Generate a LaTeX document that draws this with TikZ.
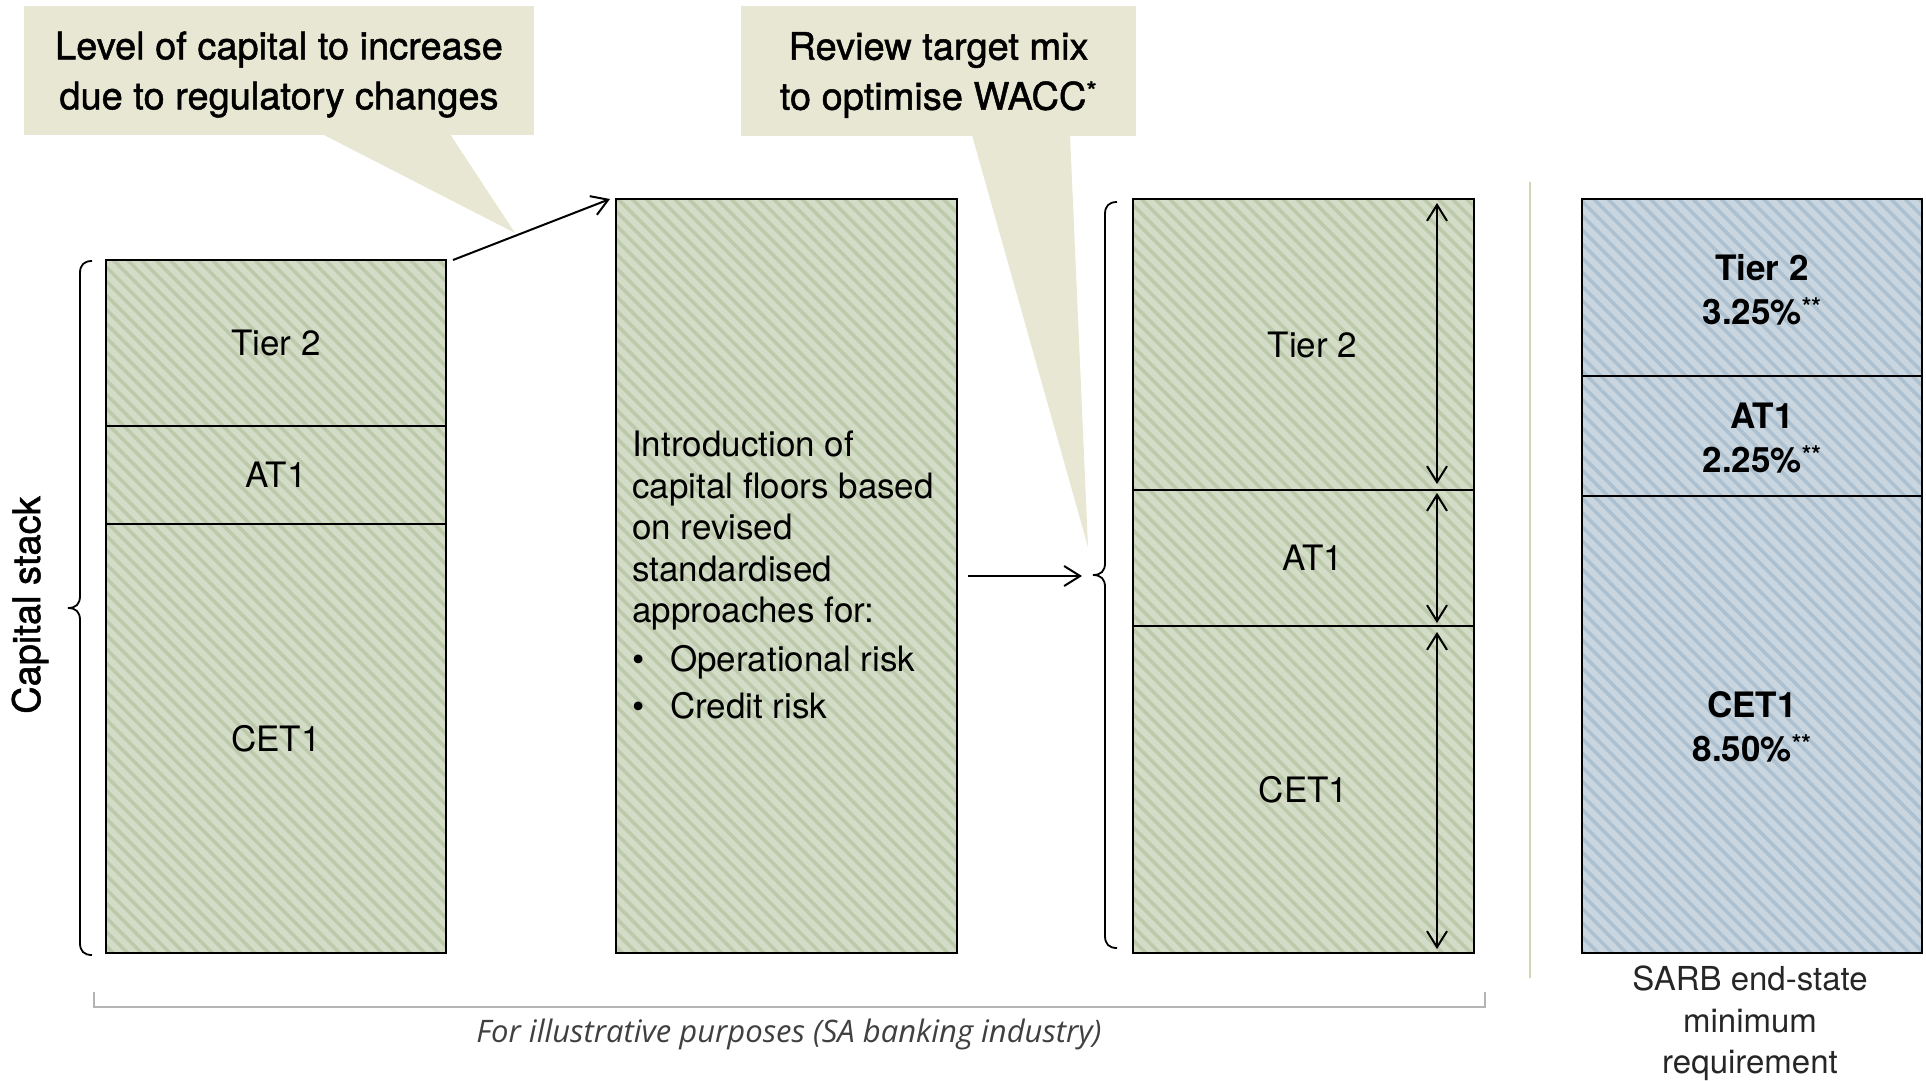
\documentclass[tikz,border=0pt]{standalone}
\usepackage{fontspec}
\setmainfont{TeX Gyre Heros}
\newfontfamily\medfont[FakeBold=1.3]{TeX Gyre Heros}
\newfontfamily\capfont{Open Sans}
\usetikzlibrary{patterns.meta,arrows.meta}
\definecolor{gfill}{HTML}{D3DCC6}
\definecolor{gstripe}{HTML}{BDC9AB}
\definecolor{bfill}{HTML}{C9D6E0}
\definecolor{bstripe}{HTML}{ADC0D0}
\definecolor{callcol}{HTML}{E7E7D3}
\definecolor{sepcol}{HTML}{D5D5B5}
\definecolor{brkcol}{HTML}{B4B4B4}
\newcommand\fsz[2]{\fontsize{#1pt}{#2pt}\selectfont}
\begin{document}
\begin{tikzpicture}[x=1pt,y=-1pt,
  segg/.style={draw=black, line width=2pt, preaction={fill=gfill},
    pattern={Lines[angle=-45,distance=10pt,line width=3.5pt]}, pattern color=gstripe,
    inner sep=0pt, outer sep=0pt, anchor=north west},
  segb/.style={draw=black, line width=2pt, preaction={fill=bfill},
    pattern={Lines[angle=-45,distance=10pt,line width=3.5pt]}, pattern color=bstripe,
    inner sep=0pt, outer sep=0pt, anchor=north west},
  lbl/.style={font=\fsz{35}{42}, inner sep=0pt},
  blbl/.style={font=\fsz{35}{44}\bfseries, align=center, inner sep=0pt},
  callout/.style={fill=callcol, inner sep=0pt, outer sep=0pt, anchor=north west},
  calltext/.style={align=center, font=\medfont\fsz{38}{50}, inner sep=0pt},
  arr/.style={-{Straight Barb[length=16pt,width=20pt]}, line width=2pt},
  dbl/.style={{Straight Barb[length=16pt,width=20pt]}-{Straight Barb[length=16pt,width=20pt]}, line width=2pt},
  bracestyle/.style={line width=1.8pt},
]
\useasboundingbox (0,0) rectangle (1926,1080);

% callouts
\node[callout, minimum width=510pt, minimum height=129pt] (c1) at (24,6) {};
\node[callout, minimum width=395pt, minimum height=130pt] (c2) at (741,6) {};
\coordinate (t1) at (515,233);
\coordinate (t2) at (1088,547);
\fill[callcol] ([xshift=298pt,yshift=1pt]c1.south west) -- (t1) -- ([xshift=426pt,yshift=1pt]c1.south west) -- cycle;
\fill[callcol] ([xshift=231pt,yshift=1pt]c2.south west) -- (t2) -- ([xshift=329pt,yshift=1pt]c2.south west) -- cycle;
\node[calltext] (c1txt) at ([yshift=-4pt]c1.center) {Level of capital to increase\\due to regulatory changes};
\node[calltext] (c2txt) at ([yshift=-4pt]c2.center) {Review target mix\\to optimise WACC\textsuperscript{*}};

% stack 1
\node[segg, minimum width=340pt, minimum height=166pt, lbl] (s1t) at (106,260) {Tier 2};
\node[segg, minimum width=340pt, minimum height=98pt, lbl] (s1a) at (s1t.south west) {AT1};
\node[segg, minimum width=340pt, minimum height=429pt, lbl] (s1c) at (s1a.south west) {CET1};

% box 2
\node[segg, minimum width=341pt, minimum height=754pt] (b2) at (616,199) {};
\node[anchor=north west, align=left, font=\fsz{35}{41.5}, inner sep=0pt] (b2txt) at (632,431)
  {Introduction of\\capital floors based\\on revised\\standardised\\approaches for:\\[7pt]
   \makebox[38pt][l]{\textbullet}Operational risk\\[6pt]
   \makebox[38pt][l]{\textbullet}Credit risk};

% box 3
\node[segg, minimum width=341pt, minimum height=291pt] (b3t) at (1133,199) {};
\node[segg, minimum width=341pt, minimum height=136pt] (b3a) at (b3t.south west) {};
\node[segg, minimum width=341pt, minimum height=327pt] (b3c) at (b3a.south west) {};
\node[lbl] (b3tl) at ([xshift=9pt]b3t.center) {Tier 2};
\node[lbl] (b3al) at ([xshift=9pt]b3a.center) {AT1};
\node[lbl] (b3cl) at (b3c.center) {CET1};

% box 4
\node[segb, minimum width=340pt, minimum height=177pt] (b4t) at (1582,199) {};
\node[segb, minimum width=340pt, minimum height=120pt] (b4a) at (b4t.south west) {};
\node[segb, minimum width=340pt, minimum height=457pt] (b4c) at (b4a.south west) {};
\node[blbl] (b4tl) at ([xshift=10pt,yshift=-2pt]b4t.center) {Tier 2\\3.25\%\textsuperscript{**}};
\node[blbl] (b4al) at ([xshift=10pt,yshift=-2pt]b4a.center) {AT1\\2.25\%\textsuperscript{**}};
\node[blbl] (b4cl) at ([yshift=-2pt]b4c.center) {CET1\\8.50\%\textsuperscript{**}};

% separator and bracket
\draw[sepcol, line width=2.5pt] (1530,182) -- (1530,978);
\draw[brkcol, line width=2pt] (94,992) -- (94,1007) -- (1485,1007) -- (1485,992);

% braces
\draw[bracestyle] (92,261) .. controls (84,261) and (80,265) .. (80,273) -- (80,596)
  .. controls (80,604) and (76,608) .. (68,608) .. controls (76,608) and (80,612) .. (80,620)
  -- (80,943) .. controls (80,951) and (84,955) .. (92,955);
\coordinate (br3) at (1093,575);
\draw[bracestyle] (1117,202) .. controls (1109,202) and (1105,206) .. (1105,214) -- (1105,563)
  .. controls (1105,571) and (1101,575) .. (br3) .. controls (1101,575) and (1105,579) .. (1105,587)
  -- (1105,936) .. controls (1105,944) and (1109,948) .. (1117,948);

% arrows
\draw[arr] ([xshift=7pt]s1t.north east) -- ([xshift=-6pt]b2.north west);
\draw[arr] ([xshift=11pt]b2.east) -- ([xshift=-11pt]b2.east -| br3);
\draw[dbl] ([xshift=-37pt,yshift=-4pt]b3t.north east) -- ([xshift=-37pt,yshift=6pt]b3t.south east);
\draw[dbl] ([xshift=-37pt,yshift=-3pt]b3a.north east) -- ([xshift=-37pt,yshift=3pt]b3a.south east);
\draw[dbl] ([xshift=-37pt,yshift=-6pt]b3c.north east) -- ([xshift=-37pt,yshift=4pt]b3c.south east);

% texts
\node[rotate=90, font=\medfont\fsz{38}{44}, inner sep=0pt] (cs) at (30,605) {Capital stack};
\node[anchor=north, align=center, font=\fsz{33}{41.5}, inner sep=0pt, text=black!85] (sarb) at (1750,966)
  {SARB end-state\\minimum\\requirement};
\node[font=\capfont\itshape\fsz{31}{36}, text=black!75, inner sep=0pt] (illus) at (789,1034)
  {For illustrative purposes (SA banking industry)};
\end{tikzpicture}
\end{document}
